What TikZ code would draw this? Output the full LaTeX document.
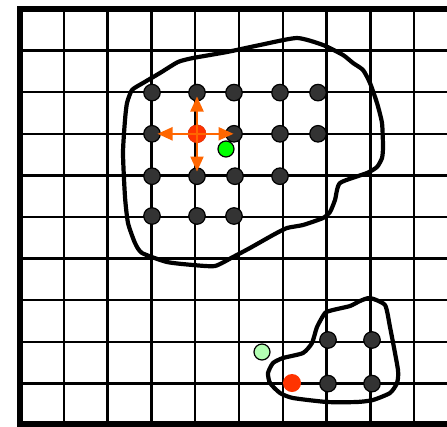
\documentclass[tikz,border=0pt]{standalone}
\usetikzlibrary{arrows.meta}
\definecolor{dotgray}{HTML}{333333}
\definecolor{hotred}{HTML}{FF3300}
\definecolor{arrorange}{HTML}{FF6600}
\definecolor{brightgreen}{HTML}{00FF00}
\definecolor{palegreen}{HTML}{B3FFB3}
\begin{document}
\begin{tikzpicture}[x=1pt,y=-1pt,
  gridline/.style={line width=2.4pt,black},
  border/.style={line width=5.5pt,black},
  blob/.style={line width=4.2pt,black,line join=round},
  dot/.style={circle,fill=dotgray,draw=black,line width=1.2pt,minimum size=16.5pt,inner sep=0pt},
  reddot/.style={circle,fill=hotred,draw=hotred!85!black,line width=0.5pt,minimum size=18pt,inner sep=0pt},
  greendot/.style={circle,fill=brightgreen,draw=black,line width=1.2pt,minimum size=16pt,inner sep=0pt},
  paledot/.style={circle,fill=palegreen,draw=black,line width=1.2pt,minimum size=16pt,inner sep=0pt},
  arr/.style={line width=2.2pt,arrorange,-{Triangle[length=15pt,width=13pt]}}]
\useasboundingbox (0,0) rectangle (447,426);
\clip (0,0) rectangle (447,426);
\fill[white] (0,0) rectangle (447,426);
% grid
\foreach \k in {1,...,10} \draw[gridline] ({20+43.8*\k},9) -- ({20+43.8*\k},426);
\foreach \k in {1,...,9} \draw[gridline] (20,{9+41.6*\k}) -- (447,{9+41.6*\k});
% borders
\draw[border] (17,9) -- (447,9);
\draw[border] (17,424) -- (447,424);
\draw[line width=6pt] (20,6.3) -- (20,426.7);
% blobs
\draw[blob] plot[smooth cycle,tension=0.35] coordinates {
 (132,90) (143,83) (160,73) (178,62) (193,58) (227,52) (260,45) (297,38)
 (323,45) (343,55) (353,63) (363,70) (370,83) (377,103) (382,123) (383,147)
 (382,158) (377,167) (367,173) (340,183) (335,200) (330,212) (323,218)
 (303,225) (287,228) (273,235) (250,248) (233,257) (215,266) (193,265)
 (167,262) (142,253) (135,243) (128,223) (125,197) (123,153) (125,120) (127,103)};
\draw[blob] plot[smooth cycle,tension=0.35] coordinates {
 (273,363) (283,358) (303,353) (312,343) (317,327) (325,313) (333,310)
 (350,306) (360,301) (370,298) (385,305) (390,327) (398,370) (397,383)
 (390,393) (373,400) (357,402) (327,402) (293,398) (280,393) (270,383) (268,373)};
% upper cluster
\node[dot] (a1) at (152,92.6) {};
\node[dot] (a2) at (197,92.6) {};
\node[dot] (a3) at (234,92.6) {};
\node[dot] (a4) at (280,92.6) {};
\node[dot] (a5) at (318,92.6) {};
\node[dot] (b1) at (152,133.8) {};
\node[reddot] (r1) at (197,133.8) {};
\node[dot] (b3) at (234,133.8) {};
\node[dot] (b4) at (280,133.8) {};
\node[dot] (b5) at (318,133.8) {};
\node[dot] (c1) at (152,176.2) {};
\node[dot] (c2) at (197,176.2) {};
\node[dot] (c3) at (235,176.2) {};
\node[dot] (c4) at (280,176.2) {};
\node[dot] (d1) at (152,216) {};
\node[dot] (d2) at (197,216) {};
\node[dot] (d3) at (234,216) {};
\node[greendot] (g1) at (226,149) {};
% lower cluster
\node[dot] (e1) at (328,340) {};
\node[dot] (e2) at (372,340) {};
\node[dot] (f1) at (328,383.6) {};
\node[dot] (f2) at (372,383.6) {};
\node[reddot,draw=none] (r2) at (292,383) {};
\node[paledot] (g2) at (262,352) {};
% arrows
\coordinate (tu) at (197,96.5);
\coordinate (td) at (197,171.5);
\coordinate (tl) at (157.5,133.8);
\coordinate (tr) at (233.5,133.8);
\draw[arr] (r1.center) -- (tu);
\draw[arr] (r1.center) -- (td);
\draw[arr] (r1.center) -- (tl);
\draw[arr] (r1.center) -- (tr);
\end{tikzpicture}
\end{document}
